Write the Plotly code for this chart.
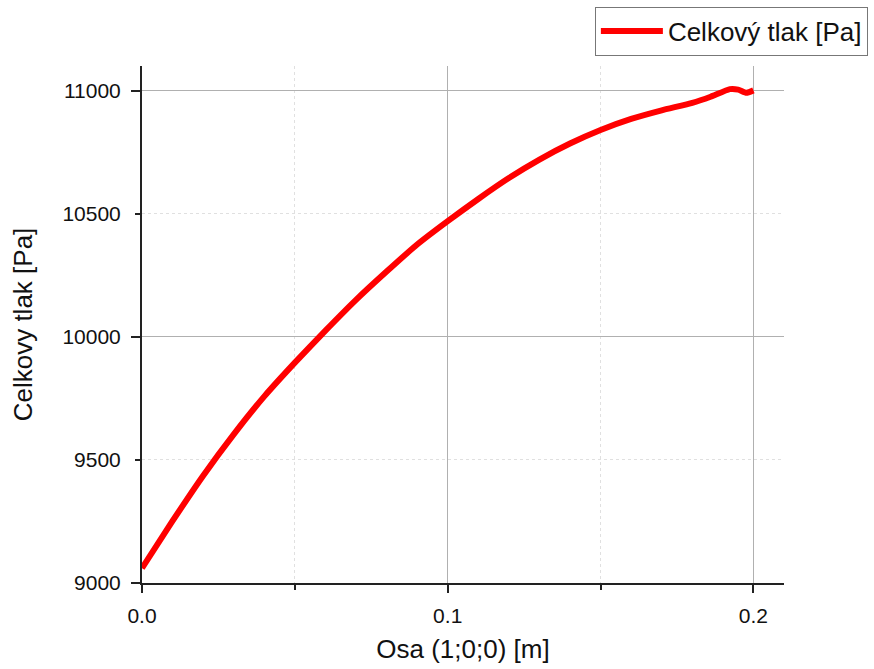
import plotly.graph_objects as go

# Total pressure along the axis (1;0;0)
osa_m = [0.0, 0.01, 0.02, 0.03, 0.04, 0.05, 0.06, 0.07, 0.08, 0.09, 0.10,
         0.11, 0.12, 0.13, 0.14, 0.15, 0.16, 0.17, 0.18, 0.186, 0.1923,
         0.195, 0.1977, 0.200]
tlak_pa = [9060, 9252, 9436, 9604, 9758, 9895, 10025, 10150, 10265, 10375,
           10470, 10560, 10645, 10720, 10785, 10840, 10885, 10920, 10950,
           10975, 11006, 11004, 10991, 11001]

y_ticks = [9000, 9500, 10000, 10500, 11000]
y_major = [9000, 10000, 11000]
x_range = [0, 0.21]
y_range = [9000, 11100]

font_family = "Liberation Sans, Arial, sans-serif"

fig = go.Figure()
fig.add_trace(go.Scatter(
    x=osa_m, y=tlak_pa, mode="lines", name="Celkový tlak [Pa]",
    line=dict(color="#ff0000", width=6, shape="spline", smoothing=0.5),
))
# invisible companion trace so the overlay axis (solid major grid) is drawn
fig.add_trace(go.Scatter(
    x=osa_m, y=tlak_pa, yaxis="y2", mode="lines", showlegend=False,
    hoverinfo="skip", line=dict(width=0), opacity=0,
))

fig.update_layout(
    width=874, height=669,
    margin=dict(l=142, r=90, t=66, b=86, autoexpand=False),
    paper_bgcolor="white", plot_bgcolor="white",
    font=dict(family=font_family, color="#111111"),
    showlegend=True,
    legend=dict(
        xref="container", yref="container", x=0.993, y=0.99,
        xanchor="right", yanchor="top",
        bordercolor="#777777", borderwidth=1, bgcolor="white",
        font=dict(size=26, family=font_family, color="#111111"),
        itemwidth=62, tracegroupgap=0,
    ),
    xaxis=dict(
        range=x_range, dtick=0.1, tickformat=".1f",
        showline=True, linecolor="#222222", linewidth=2,
        ticks="outside", ticklen=8, tickwidth=2, tickcolor="#222222",
        tickfont=dict(size=21), ticklabelstandoff=5,
        showgrid=True, gridcolor="#b0b0b0", gridwidth=1,
        minor=dict(dtick=0.05, ticks="outside", ticklen=5, tickwidth=2,
                   tickcolor="#222222", showgrid=True, gridcolor="#e0e0e0",
                   griddash="dot", gridwidth=1),
        zeroline=False, mirror=False,
        title=dict(text="Osa (1;0;0) [m]", font=dict(size=26), standoff=14),
    ),
    yaxis=dict(
        range=y_range, tickvals=y_ticks, tickformat="d",
        showline=True, linecolor="#222222", linewidth=2,
        ticks="outside", ticklen=5, tickwidth=2, tickcolor="#222222",
        tickfont=dict(size=21), ticklabelstandoff=10,
        showgrid=True, gridcolor="#e0e0e0", griddash="dot", gridwidth=1,
        zeroline=False,
        title=dict(text="Celkovy tlak [Pa]", font=dict(size=26), standoff=22),
    ),
    yaxis2=dict(
        overlaying="y", side="left", range=y_range, tickvals=y_major,
        showticklabels=False, ticks="outside", ticklen=10, tickwidth=2,
        tickcolor="#222222", showline=False,
        showgrid=True, gridcolor="#b0b0b0", gridwidth=1, zeroline=False,
    ),
)

fig.write_html("out.html")
